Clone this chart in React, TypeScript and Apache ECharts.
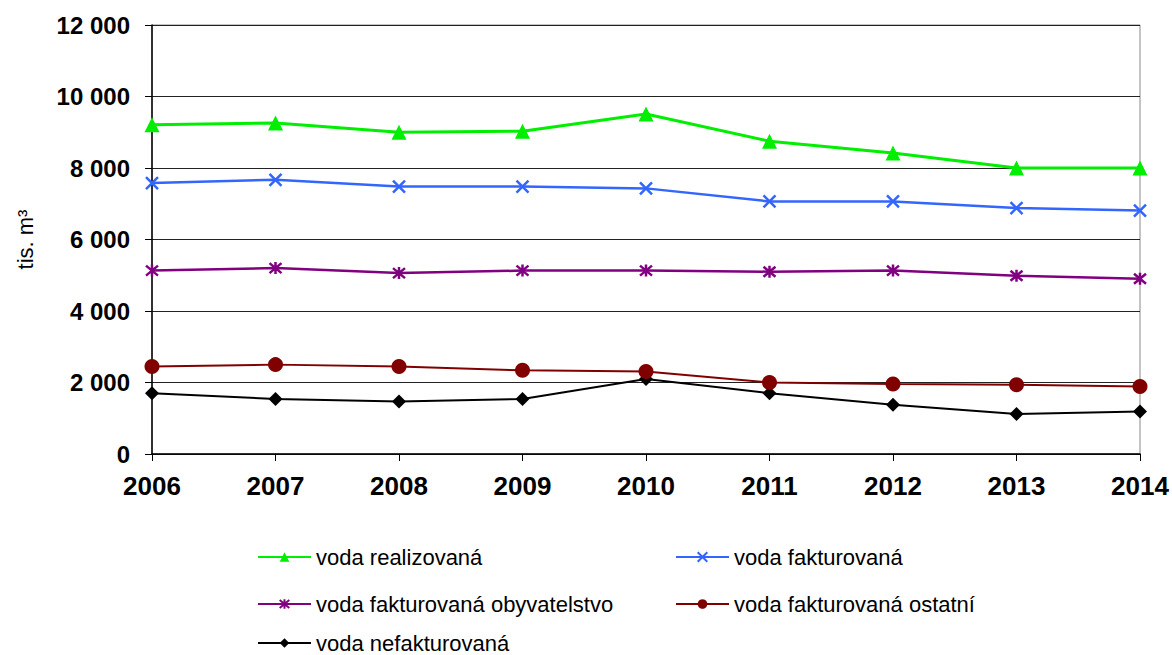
import React, { useEffect, useRef } from "react";
import * as echarts from "echarts";

const years = ["2006", "2007", "2008", "2009", "2010", "2011", "2012", "2013", "2014"];
const vodaRealizovana = [9210, 9260, 9000, 9030, 9510, 8750, 8420, 8000, 8000];
const vodaFakturovana = [7580, 7670, 7480, 7480, 7430, 7065, 7065, 6880, 6810];
const vodaFaktObyv = [5130, 5200, 5060, 5130, 5130, 5100, 5130, 4985, 4900];
const vodaFaktOstatni = [2450, 2500, 2450, 2340, 2310, 2000, 1960, 1935, 1890];
const vodaNefakturovana = [1700, 1540, 1470, 1540, 2095, 1700, 1375, 1120, 1190];
const yTicks = { min: 0, max: 12000, interval: 2000 };

const names = [
  "voda realizovaná",
  "voda fakturovaná",
  "voda fakturovaná obyvatelstvo",
  "voda fakturovaná ostatní",
  "voda nefakturovaná",
];

const FONT = "'Liberation Sans', Arial, sans-serif";

export default function App() {
  const ref = useRef<HTMLDivElement>(null);
  useEffect(() => {
    if (!ref.current) return;
    const chart = echarts.init(ref.current, null, { renderer: "svg" });
    const mk = (name: string, data: number[], color: string, symbol: string, size: number, border: number, lw: number) => ({
      name,
      type: "line",
      data,
      symbol,
      symbolSize: size,
      showSymbol: true,
      lineStyle: { color, width: lw },
      itemStyle: { color, borderColor: color, borderWidth: border },
      emphasis: { disabled: true },
    });
    const legendCommon = {
      itemWidth: 53,
      itemHeight: 12,
      textStyle: { fontFamily: FONT, fontSize: 22, color: "#000", padding: [0, 0, 0, 0] },
      itemGap: 6,
      selectedMode: false,
    };
    chart.setOption({
      animation: false,
      textStyle: { fontFamily: FONT },
      grid: {
        left: 152,
        right: 32,
        top: 25,
        bottom: 201,
        show: true,
        borderColor: "#888",
        borderWidth: 1,
      },
      legend: [
        { ...legendCommon, data: [names[0]], left: 252, top: 541 },
        { ...legendCommon, data: [names[1]], left: 670, top: 541 },
        { ...legendCommon, data: [names[2]], left: 252, top: 588 },
        { ...legendCommon, data: [names[3]], left: 670, top: 588 },
        { ...legendCommon, data: [names[4]], left: 252, top: 627 },
      ],
      xAxis: {
        type: "category",
        data: years,
        boundaryGap: false,
        axisLine: { lineStyle: { color: "#000", width: 1.5 } },
        axisTick: { show: true, length: 7, lineStyle: { color: "#000" } },
        axisLabel: { fontFamily: FONT, fontSize: 26, fontWeight: "bold", color: "#000", margin: 19 },
        splitLine: { show: false },
      },
      yAxis: {
        type: "value",
        min: yTicks.min,
        max: yTicks.max,
        interval: yTicks.interval,
        name: "tis. m³",
        nameLocation: "middle",
        nameGap: 116,
        nameRotate: 90,
        nameTextStyle: { fontFamily: FONT, fontSize: 22, color: "#000" },
        axisLine: { show: true, lineStyle: { color: "#000", width: 1.5 } },
        axisTick: { show: true, length: 7, lineStyle: { color: "#000" } },
        axisLabel: {
          fontFamily: FONT,
          fontSize: 24,
          fontWeight: "bold",
          color: "#000",
          margin: 22,
          formatter: (v: number) => String(v).replace(/\B(?=(\d{3})+(?!\d))/g, " "),
        },
        splitLine: { show: true, lineStyle: { color: "#222", width: 1.2 } },
      },
      series: [
        mk(names[4], vodaNefakturovana, "#000000", "diamond", 14, 0, 2),
        mk(names[3], vodaFaktOstatni, "#800000", "circle", 15, 0, 2),
        mk(names[2], vodaFaktObyv, "#800080", "path://M0,0L10,10M10,0L0,10M5,-1L5,11", 12, 2.5, 2.5),
        mk(names[1], vodaFakturovana, "#3366FF", "path://M0,0L10,10M10,0L0,10", 12, 2.5, 2.5),
        mk(names[0], vodaRealizovana, "#00EE00", "triangle", 15, 0, 3),
      ],
    });
    return () => chart.dispose();
  }, []);
  return <div ref={ref} style={{ width: 1172, height: 655, position: "absolute", left: 0, top: 0 }} />;
}
